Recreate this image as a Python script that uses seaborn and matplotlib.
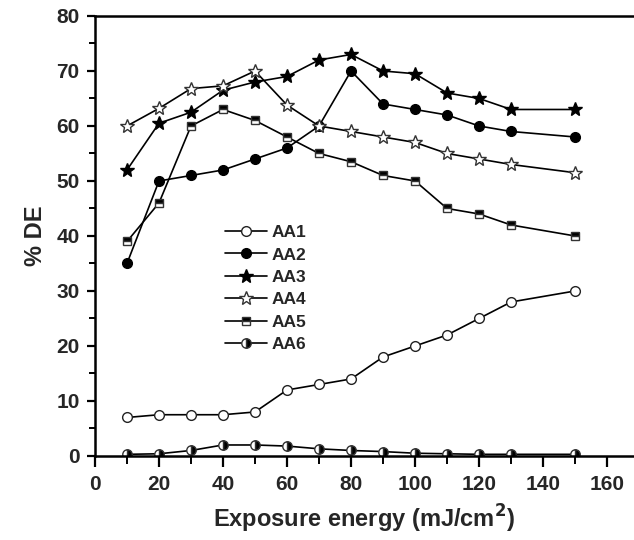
import matplotlib
matplotlib.use("Agg")
import matplotlib.pyplot as plt
import seaborn as sns
from matplotlib.ticker import MultipleLocator

energy = [10, 20, 30, 40, 50, 60, 70, 80, 90, 100, 110, 120, 130, 150]
aa1 = [7, 7.5, 7.5, 7.5, 8, 12, 13, 14, 18, 20, 22, 25, 28, 30]
aa2 = [35, 50, 51, 52, 54, 56, 60, 70, 64, 63, 62, 60, 59, 58]
aa3 = [52, 60.5, 62.5, 66.5, 68, 69, 72, 73, 70, 69.5, 66, 65, 63, 63]
aa4 = [60, 63.2, 66.8, 67.3, 70, 63.8, 60, 59, 58, 57, 55, 54, 53, 51.5]
aa5 = [39, 46, 60, 63, 61, 58, 55, 53.5, 51, 50, 45, 44, 42, 40]
aa6 = [0.3, 0.4, 1.0, 2.0, 2.0, 1.8, 1.3, 1.0, 0.8, 0.5, 0.4, 0.3, 0.3, 0.3]
names = ["AA1", "AA2", "AA3", "AA4", "AA5", "AA6"]
series = [aa1, aa2, aa3, aa4, aa5, aa6]

sns.set_theme(style="ticks")
plt.rcParams['font.family'] = ['Liberation Sans', 'DejaVu Sans']
plt.rcParams['font.weight'] = 'bold'
plt.rcParams['mathtext.default'] = 'bf'

fig = plt.figure(figsize=(6.34, 5.40), dpi=100)
ax = fig.add_axes([0.1498, 0.1556, 0.8502, 0.8148])

styles = [
    dict(marker='o', markerfacecolor='white', markeredgecolor='#222222', markersize=7),
    dict(marker='o', markerfacecolor='black', markeredgecolor='black', markersize=7),
    dict(marker='*', markerfacecolor='black', markeredgecolor='black', markersize=10),
    dict(marker='*', markerfacecolor='white', markeredgecolor='#333333', markersize=10),
    dict(marker='s', markerfacecolor='black', markerfacecoloralt='white', fillstyle='top',
         markeredgecolor='#333333', markersize=6.2),
    dict(marker='o', markerfacecolor='black', markerfacecoloralt='white', fillstyle='right',
         markeredgecolor='#333333', markersize=6.8),
]

for name, vals, st in zip(names, series, styles):
    sns.lineplot(x=energy, y=vals, ax=ax, color='black', linewidth=1.2,
                 label=name, legend=False, markeredgewidth=1.0, **st)

ax.set_xlim(0, 168.4)
ax.set_ylim(0, 80)
ax.xaxis.set_major_locator(MultipleLocator(20))
ax.xaxis.set_minor_locator(MultipleLocator(10))
ax.yaxis.set_major_locator(MultipleLocator(10))
ax.yaxis.set_minor_locator(MultipleLocator(5))
ax.tick_params(axis='x', which='major', direction='out', length=8, width=1.6,
               labelsize=15, color='black', pad=6)
ax.tick_params(axis='x', which='minor', direction='out', length=6, width=1.4, color='black')
ax.tick_params(axis='y', which='major', direction='out', length=6, width=1.6,
               labelsize=15, color='black', pad=5)
ax.tick_params(axis='y', which='minor', direction='out', length=4, width=1.4, color='black')
for lab in ax.get_xticklabels() + ax.get_yticklabels():
    lab.set_fontweight('bold')

for s in ['left', 'bottom', 'top']:
    ax.spines[s].set_linewidth(1.8)
    ax.spines[s].set_color('black')
ax.spines['right'].set_visible(False)

ax.set_xlabel("Exposure energy (mJ/cm$^\\mathbf{2}$)", fontsize=17, fontweight='bold', labelpad=6)
ax.set_ylabel("% DE", fontsize=17, fontweight='bold', labelpad=7)

handles, labels = ax.get_legend_handles_labels()
leg = ax.legend(handles, labels, loc='upper left', bbox_to_anchor=(0.235, 0.533),
                frameon=False, handlelength=2.4, labelspacing=0.42,
                handletextpad=0.25, borderpad=0.2, borderaxespad=0.0,
                prop={'weight': 'bold', 'size': 12.5})

fig.savefig("out.png", dpi=100)
